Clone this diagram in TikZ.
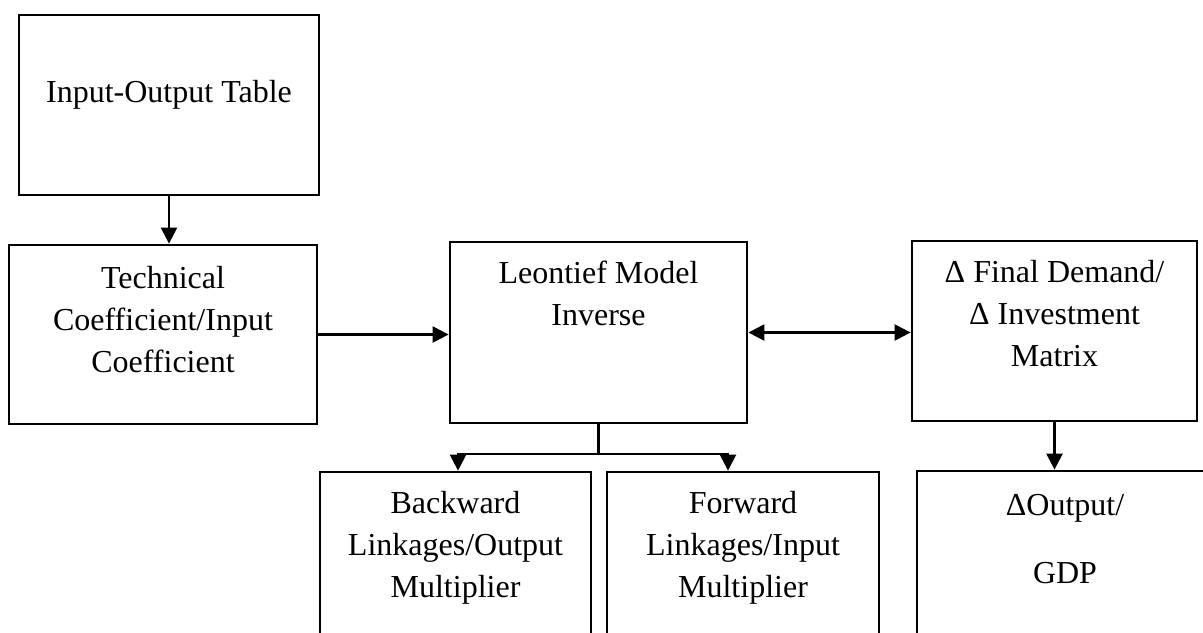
\documentclass[tikz,border=0pt]{standalone}
\usepackage{fontspec}
\setmainfont{Liberation Serif}
\usetikzlibrary{arrows.meta}
\begin{document}
\begin{tikzpicture}[x=0.5pt,y=-0.5pt,
  box/.style={draw, line width=1.4pt, inner sep=0pt},
  txt/.style={anchor=base, inner sep=0pt, font=\fontsize{16pt}{21pt}\selectfont},
  arr/.style={line width=1.2pt, -{Triangle[length=8pt,width=8pt]}},
  arrboth/.style={line width=1.2pt, {Triangle[length=8pt,width=8pt]}-{Triangle[length=8pt,width=8pt]}},
  link/.style={line width=1.2pt}]
\useasboundingbox (0,0) rectangle (1203,632);
\clip (0,0) rectangle (1203,632);
% boxes
\node[box, minimum width=150pt, minimum height=90pt] (b1) at (169,105) {};
\node[box, minimum width=154pt, minimum height=89.5pt] (b2) at (163,334.5) {};
\node[box, minimum width=148.5pt, minimum height=90.5pt] (b3) at (598.5,332.5) {};
\node[box, minimum width=142.5pt, minimum height=90pt] (b4) at (1054.5,331) {};
\node[box, minimum width=135.5pt, minimum height=89pt] (b5) at (455.5,561) {};
\node[box, minimum width=136pt, minimum height=89pt] (b6) at (743,561) {};
\node[box, minimum width=148pt, minimum height=89.5pt] (b7) at (1065,560.5) {};
% texts
\node[txt] (t1) at (169,102) {Input-Output Table};
\node[txt] (t2a) at (163,288) {Technical};
\node[txt] (t2b) at (163,330) {Coefficient/Input};
\node[txt] (t2c) at (163,372) {Coefficient};
\node[txt] (t3a) at (598.5,283) {Leontief Model};
\node[txt] (t3b) at (598.5,325) {Inverse};
\node[txt] (t4a) at (1054.5,282) {Δ Final Demand/};
\node[txt] (t4b) at (1054.5,324) {Δ Investment};
\node[txt] (t4c) at (1054.5,366) {Matrix};
\node[txt] (t5a) at (455.5,513) {Backward};
\node[txt] (t5b) at (455.5,555) {Linkages/Output};
\node[txt] (t5c) at (455.5,597) {Multiplier};
\node[txt] (t6a) at (743,513) {Forward};
\node[txt] (t6b) at (743,555) {Linkages/Input};
\node[txt] (t6c) at (743,597) {Multiplier};
\node[txt] (t7a) at (1065,515) {ΔOutput/};
\node[txt] (t7b) at (1065,583) {GDP};
% connectors
\coordinate (jl) at (458,454);
\coordinate (jr) at (728,454);
\draw[arr] (b1.south) -- (b1.south |- b2.north);
\draw[arr] (b2.east) -- (b2.east -| b3.west);
\draw[arrboth] (b3.east) -- (b3.east -| b4.west);
\draw[link] (b3.south) -- (b3.south |- jl);
\draw[arr] (b3.south |- jl) -- (jl) -- (jl |- b5.north);
\draw[arr] (b3.south |- jr) -- (jr) -- (jr |- b6.north);
\draw[arr] (b4.south) -- (b4.south |- b7.north);
\end{tikzpicture}
\end{document}
